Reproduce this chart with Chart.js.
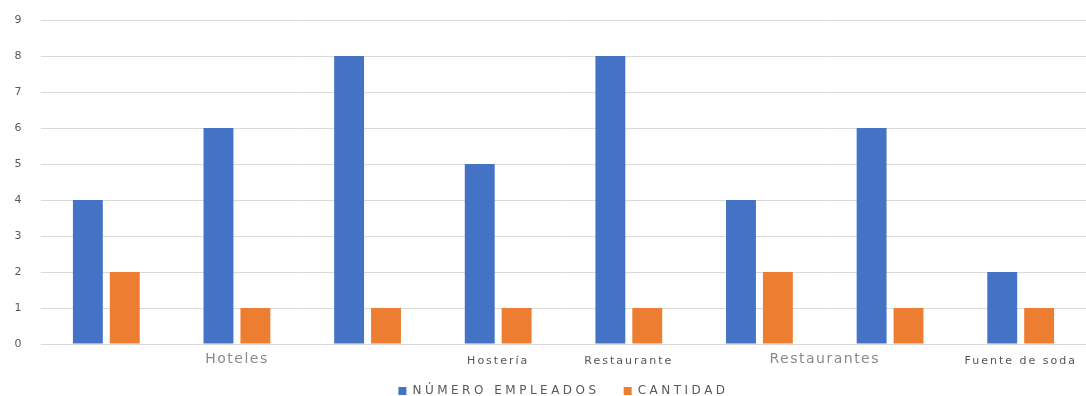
<!DOCTYPE html>
<html>
<head>
<meta charset="utf-8">
<script src="https://cdn.jsdelivr.net/npm/chart.js@4/dist/chart.umd.min.js"></script>
<style>
  html, body { margin: 0; padding: 0; background: #fff; }
  #wrap { width: 1086px; height: 396px; }
</style>
</head>
<body>
<div id="wrap"><canvas id="empChart"></canvas></div>
<script>
var categories = ['Hoteles', 'Hoteles', 'Hoteles', 'Hostería', 'Restaurante', 'Restaurantes', 'Restaurantes', 'Fuente de soda'];
var empleados = [4, 6, 8, 5, 8, 4, 6, 2];
var cantidad = [2, 1, 1, 1, 1, 2, 1, 1];
var yTicks = [0, 1, 2, 3, 4, 5, 6, 7, 8, 9];

// wide tracking for legend and tick text
var tracking = {
    id: 'tracking',
    beforeLayout: function(chart) { chart.ctx.letterSpacing = '3.5px'; },
    beforeDraw: function(chart) { chart.ctx.letterSpacing = '3.5px'; }
};

// one label per run of equal category names, centred under that run
var groupLabels = {
    id: 'groupLabels',
    afterDraw: function(chart) {
        var x = chart.scales.x;
        var ctx = chart.ctx;
        var i = 0;
        ctx.save();
        ctx.textAlign = 'center';
        ctx.textBaseline = 'middle';
        while (i < categories.length) {
            var j = i;
            while (j + 1 < categories.length && categories[j + 1] === categories[i]) j++;
            var cx = (x.getPixelForValue(i) + x.getPixelForValue(j)) / 2;
            if (j > i) {
                ctx.font = '14px "DejaVu Sans"';
                ctx.letterSpacing = '1.5px';
                ctx.fillStyle = '#8a8a8a';
                ctx.fillText(categories[i], cx, chart.chartArea.bottom + 15);
            } else {
                ctx.font = '11px "DejaVu Sans"';
                ctx.letterSpacing = '2px';
                ctx.fillStyle = '#555555';
                ctx.fillText(categories[i], cx, chart.chartArea.bottom + 17);
            }
            i = j + 1;
        }
        ctx.restore();
    }
};

var ctx = document.getElementById('empChart').getContext('2d');
new Chart(ctx, {
    type: 'bar',
    data: {
        labels: categories,
        datasets: [{
            label: 'NÚMERO EMPLEADOS',
            data: empleados,
            backgroundColor: '#4472C4',
            barPercentage: 0.81,
            categoryPercentage: 0.565
        }, {
            label: 'CANTIDAD',
            data: cantidad,
            backgroundColor: '#ED7D31',
            barPercentage: 0.81,
            categoryPercentage: 0.565
        }]
    },
    options: {
        responsive: true,
        maintainAspectRatio: false,
        animation: false,
        layout: { padding: { top: 20, right: 0, left: 0, bottom: -11 } },
        scales: {
            x: {
                grid: { display: false },
                border: { color: '#d9d9d9' },
                ticks: { display: false },
                afterFit: function(s) { s.height = 17; }
            },
            y: {
                min: 0,
                max: 9,
                afterBuildTicks: function(s) { s.ticks = yTicks.map(function(v) { return { value: v }; }); },
                grid: { color: '#d9d9d9', drawTicks: false },
                border: { display: false },
                ticks: { color: '#595959', font: { family: 'DejaVu Sans', size: 11 }, padding: 16 },
                afterFit: function(s) { s.width = 41; s.paddingTop = 0; s.paddingBottom = 0; }
            }
        },
        plugins: {
            legend: {
                position: 'bottom',
                fullSize: false,
                labels: {
                    color: '#595959',
                    font: { family: 'DejaVu Sans', size: 12 },
                    boxWidth: 8,
                    boxHeight: 8,
                    padding: 24
                }
            },
            tooltip: { enabled: false }
        }
    },
    plugins: [tracking, groupLabels]
});
</script>
</body>
</html>
